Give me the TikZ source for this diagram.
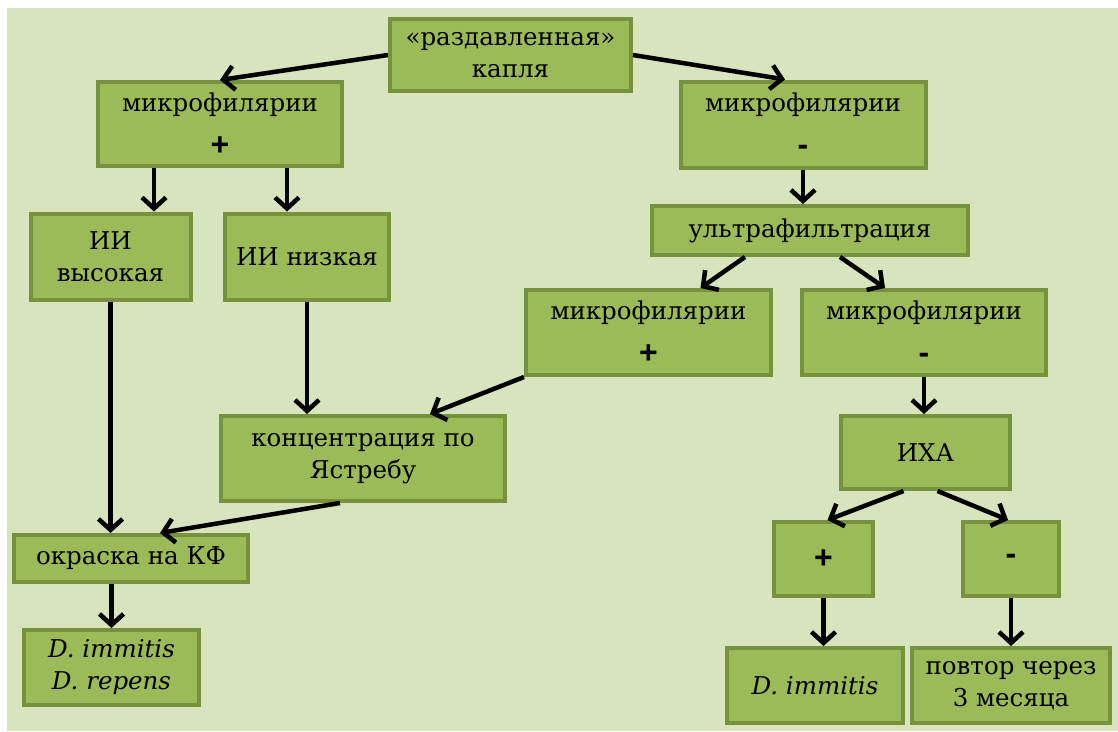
\documentclass[tikz,border=0pt]{standalone}
\usepackage{fontspec}
\setmainfont{DejaVu Serif}
\newfontfamily\signfont{Liberation Sans}
\usetikzlibrary{arrows.meta}
\definecolor{paper}{HTML}{D7E4BD}
\definecolor{boxfill}{HTML}{9BBB59}
\definecolor{boxline}{HTML}{76923C}
\newcommand{\znak}[1]{{\signfont\bfseries\fontsize{32}{32}\selectfont #1}}
\begin{document}
\begin{tikzpicture}[x=1pt,y=-1pt,
  box/.style={draw=boxline, fill=boxfill, line width=4pt, align=center, inner sep=0pt,
    font=\fontsize{24.5}{32}\selectfont},
  arr/.style={line width=4.5pt, -{Straight Barb[length=11pt,width=24pt]}}]
\useasboundingbox (0,0) rectangle (1118,731);
\fill[paper] (7,8) rectangle (1118,731);
% top row
\node[box, minimum width=241, minimum height=72] (kap) at (510.5,55) {«раздавленная»\\капля};
\node[box, minimum width=244, minimum height=84] (mpl) at (220,124) {микрофилярии\\[12pt]\znak{+}};
\node[box, minimum width=245, minimum height=86] (mmr) at (803,124.5) {микрофилярии\\[12pt]\znak{-}};
% left branch
\node[box, minimum width=160, minimum height=86] (iih) at (110.5,256.5) {ИИ\\высокая};
\node[box, minimum width=164, minimum height=86] (iin) at (307,256.5) {ИИ низкая};
\node[box, minimum width=284, minimum height=85] (konc) at (363,458.5) {концентрация по\\Ястребу};
\node[box, minimum width=234, minimum height=47] (okr) at (131,558.5) {окраска на КФ};
\node[box, minimum width=175, minimum height=75] (drep) at (111.5,667.5) {\itshape D. immitis\\\itshape D. repens};
% right branch
\node[box, minimum width=316, minimum height=49] (uf) at (810,230.5) {ультрафильтрация};
\node[box, minimum width=245, minimum height=85] (mpm) at (648.5,332.5) {микрофилярии\\[12pt]\znak{+}};
\node[box, minimum width=244, minimum height=85] (mmm) at (924,332.5) {микрофилярии\\[12pt]\znak{-}};
\node[box, minimum width=169, minimum height=73] (iha) at (925.5,452.5) {ИХА};
\node[box, minimum width=99, minimum height=74] (plus) at (823.5,559) {\znak{+}};
\node[box, minimum width=96, minimum height=74] (minus) at (1011,559) {\znak{-}};
\node[box, minimum width=176, minimum height=75] (dimm) at (815,685.5) {\itshape D. immitis};
\node[box, minimum width=198, minimum height=75] (rep) at (1011,685.5) {повтор через\\3 месяца};
% arrows
\draw[arr] (kap.west) -- (mpl.north);
\draw[arr] (kap.east) -- ([xshift=-18pt]mmr.north);
\draw[arr] ([xshift=-66pt]mpl.south) -- ([xshift=-66pt]mpl.south |- iih.north);
\draw[arr] ([xshift=67pt]mpl.south) -- ([xshift=67pt]mpl.south |- iin.north);
\draw[arr] (mmr.south) -- (mmr.south |- uf.north);
\draw[arr] ([xshift=-65pt]uf.south) -- ([xshift=52pt]mpm.north);
\draw[arr] ([xshift=30pt]uf.south) -- ([xshift=-39pt]mmm.north);
\draw[arr] (mmm.south) -- (mmm.south |- iha.north);
\draw[arr] (mpm.south west) -- ([xshift=67pt]konc.north);
\draw[arr] (iih.south) -- (iih.south |- okr.north);
\draw[arr] (iin.south) -- (iin.south |- konc.north);
\draw[arr] ([xshift=-23pt]konc.south) -- ([xshift=29pt]okr.north);
\draw[arr] (drep.north |- okr.south) -- (drep.north);
\draw[arr] ([xshift=-22pt]iha.south) -- ([xshift=4pt]plus.north);
\draw[arr] ([xshift=12pt]iha.south) -- ([xshift=-3pt]minus.north);
\draw[arr] (plus.south) -- (plus.south |- dimm.north);
\draw[arr] (minus.south) -- (minus.south |- rep.north);
\end{tikzpicture}
\end{document}
